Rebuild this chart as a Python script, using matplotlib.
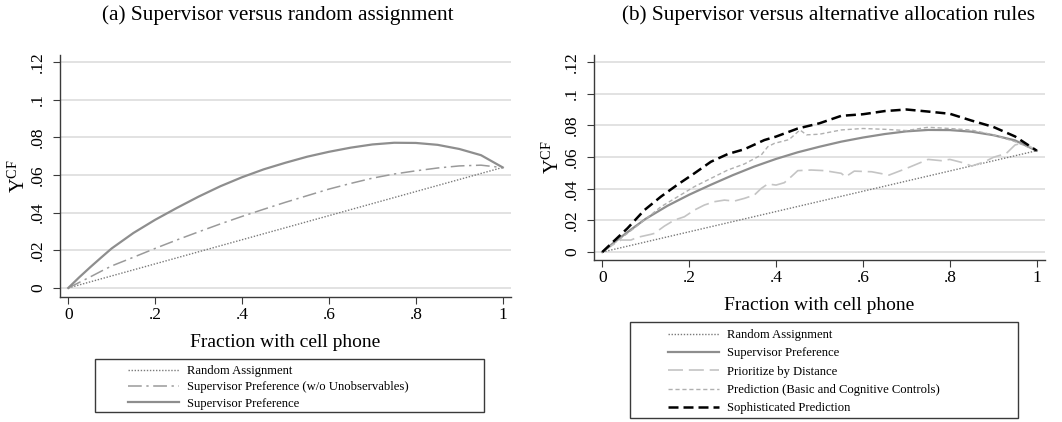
import matplotlib
matplotlib.use("Agg")
import matplotlib.pyplot as plt
from matplotlib.patches import Rectangle

plt.rcParams['font.family'] = 'Liberation Serif'
plt.rcParams['mathtext.fontset'] = 'custom'
plt.rcParams['mathtext.rm'] = 'Liberation Serif'

# ---- data ----
grid_x = [0, 0.025, 0.05, 0.075, 0.1, 0.15, 0.2, 0.25, 0.3, 0.35, 0.4, 0.45, 0.5,
          0.55, 0.6, 0.65, 0.7, 0.75, 0.8, 0.85, 0.9, 0.95, 1.0]
supervisor = [0, 0.0056, 0.0109, 0.0160, 0.0210, 0.0292, 0.0362, 0.0425, 0.0485, 0.0540, 0.0588,
              0.0630, 0.0665, 0.0697, 0.0723, 0.0745, 0.0762, 0.0771, 0.0770, 0.0760, 0.0738,
              0.0705, 0.0640]
supervisor_noun = [0, 0.0029, 0.0058, 0.0088, 0.0117, 0.0163, 0.0210, 0.0255, 0.0298, 0.0340, 0.0380,
                   0.0418, 0.0455, 0.0490, 0.0525, 0.0555, 0.0583, 0.0605, 0.0622, 0.0637, 0.0648,
                   0.0652, 0.0639]
random_x = [0, 1]
random_y = [0, 0.064]

soph_x = [0, 0.058, 0.097, 0.135, 0.174, 0.212, 0.25, 0.289, 0.327, 0.373, 0.4, 0.45, 0.5,
          0.55, 0.6, 0.65, 0.7, 0.75, 0.8, 0.85, 0.9, 0.95, 1.0]
soph_y = [0, 0.015, 0.0265, 0.035, 0.0427, 0.0497, 0.057, 0.0619, 0.0649, 0.0707, 0.0729, 0.078, 0.0813,
          0.086, 0.087, 0.089, 0.090, 0.0887, 0.0873, 0.083, 0.079, 0.073, 0.064]

pred_x = [0, 0.058, 0.097, 0.135, 0.174, 0.212, 0.25, 0.289, 0.327, 0.366, 0.381, 0.396, 0.43,
          0.455, 0.47, 0.5, 0.55, 0.6, 0.65, 0.7, 0.75, 0.8, 0.85, 0.9, 0.95, 1.0]
pred_y = [0, 0.0118, 0.0202, 0.0286, 0.035, 0.0413, 0.0465, 0.0518, 0.0556, 0.0613, 0.0665, 0.0686, 0.071,
          0.0771, 0.074, 0.0744, 0.0771, 0.078, 0.0775, 0.0767, 0.0788, 0.078, 0.077, 0.074, 0.0697, 0.064]

dist_x = [0, 0.02, 0.043, 0.066, 0.081, 0.112, 0.12, 0.143, 0.166, 0.189, 0.212, 0.235, 0.258, 0.281,
          0.304, 0.327, 0.35, 0.366, 0.381, 0.4, 0.419, 0.435, 0.45, 0.481, 0.512, 0.55, 0.56, 0.58,
          0.62, 0.66, 0.7, 0.75, 0.78, 0.8, 0.83, 0.85, 0.88, 0.9, 0.93, 0.95, 0.97, 1.0]
dist_y = [0, 0.0038, 0.0076, 0.0076, 0.0093, 0.0112, 0.0118, 0.0164, 0.0202, 0.0223, 0.0265, 0.0297, 0.0318,
          0.0328, 0.0322, 0.0339, 0.036, 0.0402, 0.043, 0.0423, 0.0438, 0.0476, 0.0514, 0.0518, 0.0514,
          0.0497, 0.0475, 0.0511, 0.0507, 0.0486, 0.0528, 0.0585, 0.0577, 0.0585, 0.0564, 0.0543, 0.057,
          0.0598, 0.0623, 0.0676, 0.0691, 0.064]

yticks = [0, 0.02, 0.04, 0.06, 0.08, 0.1, 0.12]
ytick_labels = ['0', '.02', '.04', '.06', '.08', '.1', '.12']
xticks = [0, 0.2, 0.4, 0.6, 0.8, 1]
xtick_labels = ['0', '.2', '.4', '.6', '.8', '1']

W, H = 1062, 422
fig = plt.figure(figsize=(W / 100, H / 100), dpi=100)


def style_axes(ax, ylim):
    ax.set_xlim(-0.019, 1.019)
    ax.set_ylim(*ylim)
    ax.set_yticks(yticks)
    ax.set_yticklabels(ytick_labels, rotation=90, va='center')
    ax.set_xticks(xticks)
    ax.set_xticklabels(xtick_labels)
    for s in ['top', 'right']:
        ax.spines[s].set_visible(False)
    for s in ['left', 'bottom']:
        ax.spines[s].set_color('#3a3a3a')
        ax.spines[s].set_linewidth(1.0)
    ax.tick_params(axis='both', direction='out', length=5, color='#3a3a3a', labelsize=12.5)
    ax.tick_params(axis='y', pad=5)
    ax.tick_params(axis='x', pad=2)
    ax.yaxis.grid(True, color='#e2e2e2', lw=1.4)
    ax.set_axisbelow(True)
    ax.set_xlabel('Fraction with cell phone', fontsize=14, labelpad=8)
    ax.set_ylabel(r'Y$^{\mathrm{CF}}$', fontsize=14.5, labelpad=0)


# ---- panel (a) ----
ax1 = fig.add_axes([60 / W, 1 - 297 / H, 451 / W, 242 / H])
l_rand, = ax1.plot(random_x, random_y, color='#7a7a7a', lw=1.0, linestyle=(0, (1, 1.2)),
                   label='Random Assignment')
l_noun, = ax1.plot(grid_x, supervisor_noun, color='#9a9a9a', lw=1.1, linestyle=(0, (9, 3, 1.5, 3)),
                   label='Supervisor Preference (w/o Unobservables)')
l_sup, = ax1.plot(grid_x, supervisor, color='#8e8e8e', lw=1.6, label='Supervisor Preference')
style_axes(ax1, (-0.0048, 0.1237))

# ---- panel (b) ----
ax2 = fig.add_axes([594 / W, 1 - 260 / H, 451 / W, 205 / H])
r_rand, = ax2.plot(random_x, random_y, color='#7a7a7a', lw=1.0, linestyle=(0, (1, 1.2)),
                   label='Random Assignment')
r_sup, = ax2.plot(grid_x, supervisor, color='#8e8e8e', lw=1.6, label='Supervisor Preference')
r_dist, = ax2.plot(dist_x, dist_y, color='#c4c4c4', lw=1.2, linestyle=(0, (9, 3.5)),
                   label='Prioritize by Distance')
r_pred, = ax2.plot(pred_x, pred_y, color='#b0b0b0', lw=1.0, linestyle=(0, (3, 2)),
                   label='Prediction (Basic and Cognitive Controls)')
r_soph, = ax2.plot(soph_x, soph_y, color='black', lw=1.8, linestyle=(0, (4, 2)),
                   label='Sophisticated Prediction')
style_axes(ax2, (-0.0050, 0.1244))

# ---- titles ----
fig.text(278 / W, 1 - 15 / H, '(a) Supervisor versus random assignment', ha='center', va='center',
         fontsize=15.3)
fig.text(828 / W, 1 - 15 / H, '(b) Supervisor versus alternative allocation rules', ha='center',
         va='center', fontsize=15.3)

# ---- legends (box drawn separately) ----
fig.patches.append(Rectangle((95 / W, 1 - 412 / H), 389 / W, 53 / H, transform=fig.transFigure,
                             fill=False, edgecolor='#3a3a3a', lw=1.0))
fig.patches.append(Rectangle((630 / W, 1 - 418 / H), 388 / W, 96 / H, transform=fig.transFigure,
                             fill=False, edgecolor='#3a3a3a', lw=1.0))

fig.legend(handles=[l_rand, l_noun, l_sup], loc='upper left', bbox_to_anchor=(128 / W, 1 - 365 / H),
           frameon=False, fontsize=9.1, borderpad=0, borderaxespad=0, handlelength=4,
           handletextpad=0.7, labelspacing=0.35)
fig.legend(handles=[r_rand, r_sup, r_dist, r_pred, r_soph], loc='upper left',
           bbox_to_anchor=(668 / W, 1 - 329 / H), frameon=False, fontsize=9.1, borderpad=0,
           borderaxespad=0, handlelength=4, handletextpad=0.7, labelspacing=0.5)

fig.savefig('out.png', dpi=100)
